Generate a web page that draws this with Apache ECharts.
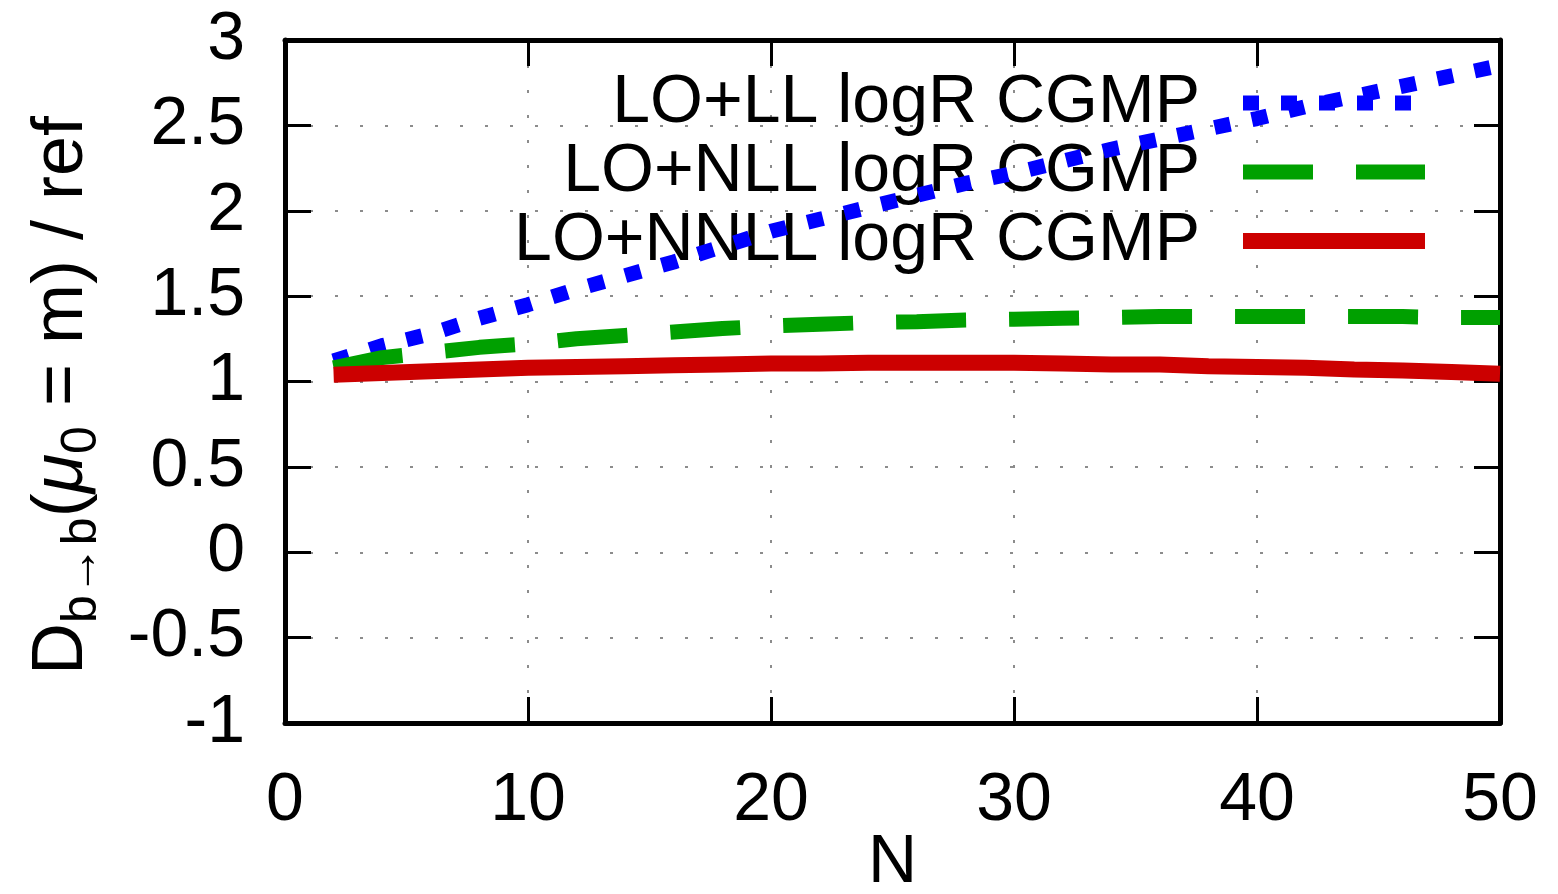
<!DOCTYPE html>
<html>
<head>
<meta charset="utf-8">
<script src="https://cdn.jsdelivr.net/npm/echarts@6/dist/echarts.min.js"></script>
<style>
html,body{margin:0;padding:0;background:#ffffff;}
#chart{width:1558px;height:894px;}
</style>
</head>
<body>
<div id="chart"></div>
<script>
// ---- data ----
const nValues = [2,4,6,8,10,12,14,16,18,20,22,24,26,28,30,32,34,36,38,40,42,44,46,48,50];
const seriesNames = ['LO+LL logR CGMP', 'LO+NLL logR CGMP', 'LO+NNLL logR CGMP'];
const llValues   = [1.12,1.21,1.28,1.37,1.45,1.54,1.62,1.70,1.79,1.88,1.95,2.02,2.09,2.16,2.22,2.29,2.36,2.42,2.48,2.54,2.61,2.67,2.73,2.79,2.85];
const nllValues  = [1.08,1.14,1.17,1.20,1.22,1.25,1.27,1.29,1.31,1.325,1.335,1.345,1.35,1.36,1.365,1.37,1.375,1.38,1.38,1.38,1.38,1.38,1.38,1.375,1.375];
const nnllValues = [1.04,1.05,1.06,1.07,1.08,1.085,1.09,1.095,1.10,1.105,1.105,1.11,1.11,1.11,1.11,1.105,1.10,1.10,1.09,1.085,1.08,1.07,1.065,1.055,1.045];
const xAxisRange = {min: 0, max: 50, step: 10};
const yAxisRange = {min: -1, max: 3, step: 0.5};
const xAxisTitle = 'N';
const yAxisTitle = '{m|D}{s|b→b}{m|(}{mu|μ}{s|0}{m| = m) / ref}';

// ---- chart ----
const FONT = '"Liberation Sans", Arial, Helvetica, sans-serif';
const FS = 68;
const TICK_LEN = 26;
const colors = ['#0000ff', '#00a000', '#cc0000'];
const widths = [15, 15, 16];
const dashes = [[16, 22], [70, 43], 'solid'];
const valueSets = [llValues, nllValues, nnllValues];

const chart = echarts.init(document.getElementById('chart'), null, {renderer: 'canvas'});

function gridLine() { return {show: true, lineStyle: {color: '#8c8c8c', width: 2, type: [3, 22]}}; }
function frameLine() { return {show: true, onZero: false, lineStyle: {color: '#000000', width: 5}}; }
function tickIn() { return {show: true, inside: true, length: TICK_LEN, lineStyle: {color: '#000000', width: 3}}; }

const option = {
  animation: false,
  backgroundColor: '#ffffff',
  grid: {left: 285, right: 58, top: 40, bottom: 171, outerBoundsMode: 'none', containLabel: false},
  legend: {
    data: seriesNames,
    orient: 'vertical',
    align: 'right',
    right: 120,
    top: 64,
    itemWidth: 182,
    itemHeight: 16,
    itemGap: 1,
    selectedMode: false,
    z: 1,
    textStyle: {fontFamily: FONT, fontSize: FS, lineHeight: 68, color: '#000', padding: [0, 38, 0, 0]},
    lineStyle: {width: 'inherit'},
    itemStyle: {color: 'rgba(0,0,0,0)', borderWidth: 0, opacity: 0}
  },
  xAxis: [
    {
      type: 'value', position: 'bottom',
      min: xAxisRange.min, max: xAxisRange.max, interval: xAxisRange.step,
      name: xAxisTitle, nameLocation: 'middle', nameGap: 106, nameMoveOverlap: false,
      nameTextStyle: {fontFamily: FONT, fontSize: FS, lineHeight: 68, color: '#000'},
      axisLine: frameLine(), axisTick: tickIn(),
      axisLabel: {fontFamily: FONT, fontSize: FS, lineHeight: 68, color: '#000', margin: 44},
      splitLine: gridLine()
    },
    {
      type: 'value', position: 'top',
      min: xAxisRange.min, max: xAxisRange.max, interval: xAxisRange.step,
      axisLine: frameLine(), axisTick: tickIn(),
      axisLabel: {show: false}, splitLine: {show: false}
    }
  ],
  yAxis: [
    {
      type: 'value', position: 'left',
      min: yAxisRange.min, max: yAxisRange.max, interval: yAxisRange.step,
      name: yAxisTitle, nameLocation: 'middle', nameRotate: 90, nameGap: 178, nameMoveOverlap: false,
      nameTextStyle: {
        fontFamily: FONT, fontSize: 72, color: '#000', padding: [0, 28, 0, 0],
        rich: {
          m: {fontFamily: FONT, fontSize: 72, lineHeight: 90, color: '#000'},
          mu: {fontFamily: FONT, fontSize: 72, lineHeight: 90, fontStyle: 'italic', color: '#000'},
          s: {fontFamily: FONT, fontSize: 50, lineHeight: 50, verticalAlign: 'bottom', color: '#000'}
        }
      },
      axisLine: frameLine(), axisTick: tickIn(),
      axisLabel: {fontFamily: FONT, fontSize: FS, lineHeight: 68, color: '#000', margin: 40},
      splitLine: gridLine()
    },
    {
      type: 'value', position: 'right',
      min: yAxisRange.min, max: yAxisRange.max, interval: yAxisRange.step,
      axisLine: frameLine(), axisTick: tickIn(),
      axisLabel: {show: false}, splitLine: {show: false}
    }
  ],
  series: seriesNames.map((name, i) => ({
    name: name,
    type: 'line',
    xAxisIndex: 0,
    yAxisIndex: 0,
    data: nValues.map((n, k) => [n, valueSets[i][k]]),
    showSymbol: false,
    symbol: 'none',
    z: 3 + i,
    lineStyle: {color: colors[i], width: widths[i], type: dashes[i], cap: 'butt'},
    itemStyle: {color: colors[i]}
  }))
};

chart.setOption(option);
</script>
</body>
</html>
